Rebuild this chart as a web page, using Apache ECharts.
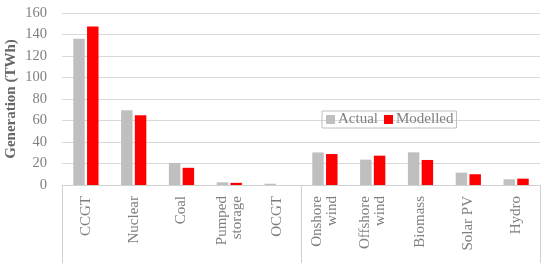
<!DOCTYPE html>
<html><head><meta charset="utf-8">
<script src="https://cdn.jsdelivr.net/npm/echarts@6/dist/echarts.min.js"></script>
<style>html,body{margin:0;padding:0;background:#fff}#c{width:550px;height:273px}</style>
</head><body><div id="c"></div>
<script>
const categories = ['CCGT','Nuclear','Coal','Pumped\nstorage','OCGT','Onshore\nwind','Offshore\nwind','Biomass','Solar PV','Hydro'];
const actual = [136, 69.5, 20.5, 2.5, 1.2, 30.3, 23.6, 30.4, 11.5, 5.3];
const modelled = [147.5, 65, 16, 2, 0, 28.8, 27.3, 23.3, 10, 5.9];
const yTicks = [0, 20, 40, 60, 80, 100, 120, 140, 160];

const FONT = "'Liberation Serif', serif";
const GREY = '#7f7f7f';
const chart = echarts.init(document.getElementById('c'));
chart.setOption({
  animation: false,
  textStyle: {fontFamily: FONT},
  grid: {left: 62, right: 10, top: 13, bottom: 88, containLabel: false, outerBoundsMode: 'none'},
  legend: {
    data: ['Actual', 'Modelled'],
    left: 322, top: 111,
    padding: [1, 3, 1, 4],
    borderColor: '#bfbfbf', borderWidth: 1,
    itemWidth: 9, itemHeight: 9, itemGap: 6,
    icon: 'rect',
    textStyle: {fontFamily: FONT, fontSize: 15, color: GREY, padding: [0,0,0,-2]}
  },
  xAxis: {
    type: 'category',
    data: categories,
    axisLine: {lineStyle: {color: '#d0d0d0', width: 1}},
    axisTick: {show: true, length: 78, interval: function(i){ return i % 5 === 0; }, lineStyle: {color: '#d0d0d0'}},
    axisLabel: {rotate: 90, fontSize: 15, color: GREY, fontFamily: FONT, interval: 0, margin: 11, lineHeight: 15}
  },
  yAxis: {
    type: 'value',
    min: yTicks[0], max: yTicks[yTicks.length-1], interval: 20,
    name: 'Generation (TWh)',
    nameLocation: 'middle',
    nameGap: 43,
    nameMoveOverlap: false,
    nameTextStyle: {fontFamily: FONT, fontSize: 15, fontWeight: 'bold', color: '#666666'},
    axisLine: {show: false},
    axisTick: {show: false},
    axisLabel: {fontSize: 14.5, color: GREY, fontFamily: FONT, margin: 15},
    splitLine: {lineStyle: {color: '#d9d9d9', width: 1}}
  },
  series: [
    {name: 'Actual', type: 'bar', data: actual, itemStyle: {color: '#bfbfbf'}, barWidth: '24%', barGap: '20%'},
    {name: 'Modelled', type: 'bar', data: modelled, itemStyle: {color: '#ff0000'}, barWidth: '24%'}
  ]
});
</script></body></html>
